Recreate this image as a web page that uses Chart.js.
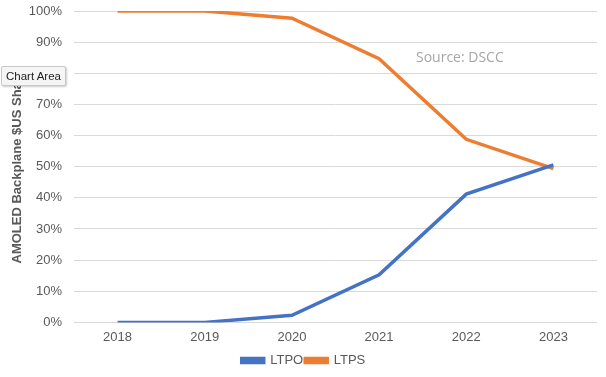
<!DOCTYPE html>
<html>
<head>
<meta charset="utf-8">
<script src="https://cdn.jsdelivr.net/npm/chart.js@4"></script>
<style>
  html, body { margin: 0; padding: 0; background: #fff; }
  #wrap { position: relative; width: 606px; height: 377px; }
  #tip {
    position: absolute; left: 1px; top: 66px;
    font: 11.5px "Liberation Sans", Arial, sans-serif; color: #222;
    background: #f5f5f5; border: 1px solid #c8c8c8; border-radius: 2px;
    padding: 3px 4px; box-shadow: 1px 1px 2px rgba(0,0,0,0.2);
  }
</style>
</head>
<body>
<div id="wrap">
  <canvas id="chart" width="606" height="377"></canvas>
  <div id="tip">Chart Area</div>
</div>
<script>
const years = ["2018", "2019", "2020", "2021", "2022", "2023"];
const ltpo = [0, 0, 2.3, 15.3, 41.2, 50.6];
const ltps = [100, 100, 97.7, 84.7, 58.8, 49.4];

const sourceNote = {
  id: "sourceNote",
  afterDraw(chart) {
    const ctx = chart.ctx;
    const area = chart.chartArea;
    ctx.save();
    ctx.font = "14px 'Open Sans', sans-serif";
    ctx.fillStyle = "#a6a6a6";
    ctx.textBaseline = "middle";
    ctx.fillText("Source: DSCC", area.left + 342, area.top + 47);
    ctx.restore();
  }
};

new Chart(document.getElementById("chart"), {
  type: "line",
  data: {
    labels: years,
    datasets: [
      {
        label: "LTPO",
        data: ltpo,
        borderColor: "#4472c4",
        backgroundColor: "#4472c4",
        borderWidth: 3.5,
        pointRadius: 0,
        pointHoverRadius: 0,
        tension: 0,
      },
      {
        label: "LTPS",
        data: ltps,
        borderColor: "#ed7d31",
        backgroundColor: "#ed7d31",
        borderWidth: 3.5,
        pointRadius: 0,
        pointHoverRadius: 0,
        tension: 0,
      },
    ],
  },
  options: {
    responsive: false,
    animation: false,
    layout: { autoPadding: false, padding: { top: 11, right: 9, bottom: 0, left: 10 } },
    plugins: {
      tooltip: { enabled: false },
      legend: {
        position: "bottom",
        labels: {
          boxWidth: 22,
          boxHeight: 4,
          padding: 2,
          color: "#595959",
          font: { family: "'Liberation Sans', Arial, sans-serif", size: 13 },
        },
      },
    },
    scales: {
      x: {
        offset: true,
        grid: { display: false, drawTicks: false },
        border: { display: false },
        ticks: {
          color: "#595959",
          padding: 7,
          font: { family: "'Liberation Sans', Arial, sans-serif", size: 13 },
        },
      },
      y: {
        min: 0,
        max: 100,
        afterFit: (scale) => {
          scale.width = 64;
          scale.paddingTop = 0;
          scale.paddingBottom = 0;
        },
        ticks: {
          stepSize: 10,
          color: "#595959",
          padding: 12,
          callback: (v) => v + "%",
          font: { family: "'Liberation Sans', Arial, sans-serif", size: 13 },
        },
        grid: { color: "#d9d9d9", drawTicks: false },
        border: { display: false },
        title: {
          display: true,
          text: "AMOLED Backplane $US Share",
          color: "#595959",
          padding: { top: 0, bottom: 2 },
          font: { family: "'Liberation Sans', Arial, sans-serif", size: 13, weight: "bold" },
        },
      },
    },
  },
  plugins: [sourceNote],
});
</script>
</body>
</html>
